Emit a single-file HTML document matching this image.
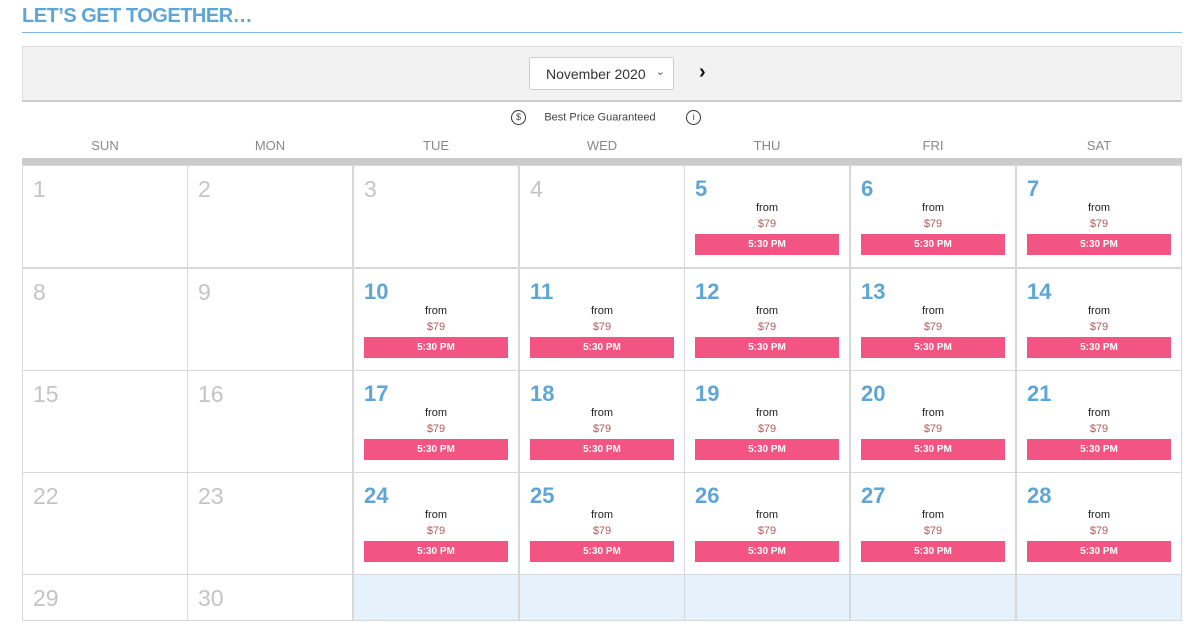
<!DOCTYPE html>
<html><head><style>
*{margin:0;padding:0;box-sizing:border-box}
body{width:1200px;height:642px;background:#fff;font-family:"Liberation Sans",sans-serif;position:relative;overflow:hidden}
.title{position:absolute;left:22px;top:5px;font-size:20px;font-weight:bold;color:#5ea6d6;letter-spacing:-0.5px}
.hr{position:absolute;left:22px;top:32px;width:1160px;height:1px;background:#7fb8de}
.bar{position:absolute;left:22px;top:46px;width:1160px;height:56px;background:#f2f2f2;border:1px solid #ddd;border-bottom:2px solid #ccc}
.sel{position:absolute;left:529px;top:57px;width:145px;height:33px;background:#fff;border:1px solid #ccc;border-radius:3px;font-size:14px;color:#333;padding:8px 0 0 16px}
.sel span{position:absolute;right:8px;top:7px;font-size:11px;color:#555}
.next{position:absolute;left:699px;top:61px;font-size:20px;font-weight:bold;color:#111}
.bp{position:absolute;left:511px;top:110px;font-size:11px;color:#444}
.circ{display:inline-block;width:15px;height:15px;border:1px solid #333;border-radius:50%;text-align:center;font-size:9px;line-height:13px;vertical-align:middle}
.hd{position:absolute;top:133px;height:25px;width:166px;text-align:center;font-size:13px;color:#888;padding-top:5px}
.gb{position:absolute;left:22px;top:158px;width:1160px;height:7px;background:#ccc}
.c{position:absolute;width:166px;height:103px;border:1px solid #d8d8d8;background:#fff}
.n{position:absolute;left:10px;top:10px;font-size:23px;color:#c4c4c4}
.a .n{color:#5ea6d6;font-weight:bold;font-size:22px}
.f{position:absolute;left:0;width:100%;text-align:center;top:36px;font-size:11px;color:#222}
.p{position:absolute;left:0;width:100%;text-align:center;top:52px;font-size:11px;color:#b05a5a}
.b{position:absolute;left:10px;right:10px;top:68px;height:21px;background:#f25583;color:#fff;font-size:10px;font-weight:bold;text-align:center;line-height:21px}
.e{background:#e6f2fb}
</style></head><body>
<div class="title">LET’S GET TOGETHER…</div>
<div class="hr"></div>
<div class="bar"></div>
<div class="sel">November 2020<span>&#8964;</span></div>
<div class="next">&#8250;</div>
<div class="bp"><span class="circ">$</span>&nbsp;&nbsp;&nbsp;&nbsp;&nbsp;&nbsp;Best Price Guaranteed&nbsp;&nbsp;&nbsp;&nbsp;&nbsp;&nbsp;&nbsp;&nbsp;&nbsp;&nbsp;<span class="circ">i</span></div>
<div class="gb"></div>
<div id="g"></div>
<script>
var xs=[22,187,353,519,684,850,1016],ys=[165,268,370,472,574],d=["SUN","MON","TUE","WED","THU","FRI","SAT"],h="";
for(var i=0;i<7;i++)h+='<div class="hd" style="left:'+xs[i]+'px">'+d[i]+'</div>';
for(var r=0;r<5;r++)for(var c=0;c<7;c++){var day=r*7+c+1,x=xs[c],y=ys[r];
if(r==4){h+='<div class="c'+(c>=2?' e':'')+'" style="left:'+x+'px;top:'+y+'px;height:47px">'+(c<2?'<div class="n">'+day+'</div>':'')+'</div>';continue;}
var act=(c>=2&&day>=5);
h+='<div class="c'+(act?' a':'')+'" style="left:'+x+'px;top:'+y+'px"><div class="n">'+day+'</div>'+(act?'<div class="f">from</div><div class="p">$79</div><div class="b">5:30 PM</div>':'')+'</div>';}
document.getElementById("g").innerHTML=h;
</script>
</body></html>
